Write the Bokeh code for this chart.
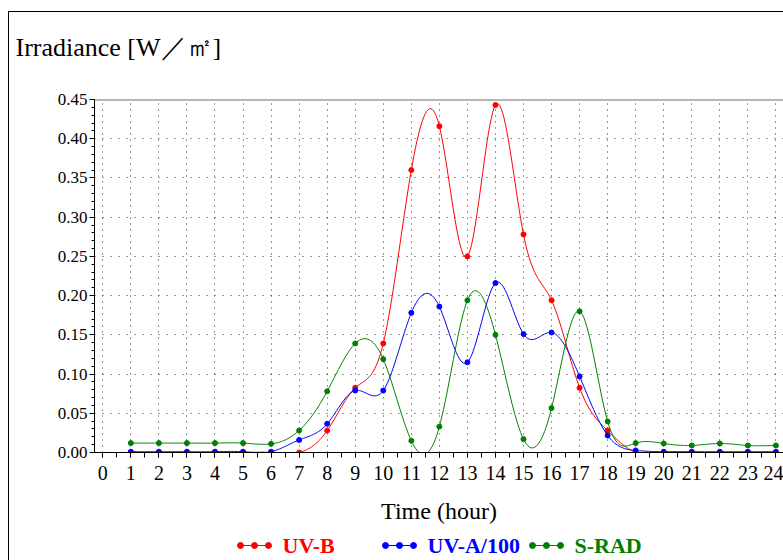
import numpy as np
from bokeh.plotting import figure
from bokeh.models import Range1d, Span, Title, SingleIntervalTicker, NumeralTickFormatter
from bokeh.layouts import column
from bokeh.embed import file_html
from bokeh.resources import INLINE
from bokeh.core.properties import value

# Hourly irradiance readings [W/m2]
hours = list(range(1, 25))
uvb = [0.0, 0.0, 0.0, 0.0, 0.0, 0.0, 0.0, 0.028, 0.0825, 0.139, 0.360, 0.416,
       0.250, 0.443, 0.278, 0.194, 0.0825, 0.028, 0.0, 0.0, 0.0, 0.0, 0.0, 0.0]
uva100 = [0.001, 0.001, 0.001, 0.001, 0.001, 0.001, 0.016, 0.0366, 0.079, 0.079, 0.178, 0.186,
          0.115, 0.216, 0.151, 0.153, 0.097, 0.0217, 0.0026, 0.001, 0.001, 0.001, 0.001, 0.001]
srad = [0.012, 0.012, 0.012, 0.012, 0.012, 0.011, 0.028, 0.078, 0.139, 0.119, 0.015, 0.033,
        0.194, 0.150, 0.017, 0.0566, 0.180, 0.0396, 0.012, 0.0115, 0.009, 0.0115, 0.009, 0.009]

series = [
    ("UV-B", uvb, "#ff0000"),
    ("UV-A/100", uva100, "#0000ff"),
    ("S-RAD", srad, "#008000"),
]

SERIF = "Liberation Serif"


def natural_spline(xs, ys, per_seg=20):
    """Smooth path through the points (natural cubic spline)."""
    x = np.asarray(xs, float)
    y = np.asarray(ys, float)
    n = len(x)
    h = np.diff(x)
    A = np.zeros((n, n))
    r = np.zeros(n)
    A[0, 0] = A[-1, -1] = 1.0
    for i in range(1, n - 1):
        A[i, i - 1] = h[i - 1]
        A[i, i] = 2 * (h[i - 1] + h[i])
        A[i, i + 1] = h[i]
        r[i] = 6 * ((y[i + 1] - y[i]) / h[i] - (y[i] - y[i - 1]) / h[i - 1])
    M = np.linalg.solve(A, r)
    px, py = [], []
    for i in range(n - 1):
        t = np.linspace(0, 1, per_seg, endpoint=(i == n - 2))
        hi = h[i]
        a = 1 - t
        s = (M[i] * (a * hi) ** 3 / (6 * hi) + M[i + 1] * (t * hi) ** 3 / (6 * hi)
             + (y[i] - M[i] * hi * hi / 6) * a + (y[i + 1] - M[i + 1] * hi * hi / 6) * t)
        px.extend(x[i] + t * hi)
        py.extend(s)
    return px, py


p = figure(width=774, height=516,
           x_range=Range1d(-0.296, 24.27), y_range=Range1d(0, 0.45),
           output_backend="svg", toolbar_location=None,
           min_border_left=85, min_border_right=0, min_border_top=87, min_border_bottom=76)
p.outline_line_color = None
p.background_fill_color = "white"
p.border_fill_color = "white"

# title in the top-left corner; a blank title row keeps it clear of the plot area
p.add_layout(Title(text=" ", text_font_size="10px", standoff=25), "above")
p.title.text = "Irradiance [W／㎡]"
p.title.align = "left"
p.title.offset = -79
p.title.standoff = 0
p.title.text_font = SERIF
p.title.text_font_size = "26px"
p.title.text_font_style = "normal"
p.title.text_color = "black"

for name, vals, color in series:
    sx, sy = natural_spline(hours, vals)
    p.line(sx, sy, line_color=color, line_width=1)
    p.scatter(hours, vals, size=5, marker="circle", fill_color=color, line_color=color)

p.add_layout(Span(location=0.45, dimension="width", line_color="#6e6e6e", line_width=2))

# axes
p.xaxis.ticker = SingleIntervalTicker(interval=1, num_minor_ticks=2)
p.yaxis.ticker = SingleIntervalTicker(interval=0.05, num_minor_ticks=5)
p.yaxis.formatter = NumeralTickFormatter(format="0.00")
for ax in (p.xaxis, p.yaxis):
    ax.axis_line_color = "black"
    ax.major_tick_line_color = "black"
    ax.minor_tick_line_color = "black"
    ax.major_tick_in = 0
    ax.minor_tick_in = 0
    ax.major_label_text_font = SERIF
    ax.major_label_text_color = "black"
p.xaxis.major_tick_out = 5
p.xaxis.minor_tick_out = 5
p.yaxis.major_tick_out = 5
p.yaxis.minor_tick_out = 3
p.xaxis.major_label_text_font_size = "20px"
p.yaxis.major_label_text_font_size = "17px"
p.yaxis.major_label_standoff = 2
p.xaxis.major_label_standoff = 8
p.xaxis.axis_label = "Time (hour)"
p.xaxis.axis_label_text_font = SERIF
p.xaxis.axis_label_text_font_size = "24px"
p.xaxis.axis_label_text_font_style = "normal"
p.xaxis.axis_label_text_color = "black"
p.xaxis.axis_label_standoff = 15

# dotted grid
p.xgrid.grid_line_color = "#333333"
p.xgrid.grid_line_dash = "1 5"
p.ygrid.grid_line_color = "#333333"
p.ygrid.grid_line_dash = "1 7"

# legend row, its frame lined up with the chart's frame (page x coordinates)
leg = figure(width=774, height=32, x_range=Range1d(94, 783), y_range=Range1d(32, 0),
             output_backend="svg", toolbar_location=None,
             x_axis_location=None, y_axis_location=None,
             min_border_left=85, min_border_right=0, min_border_top=0, min_border_bottom=0)
leg.outline_line_color = None
leg.grid.visible = False
legend_x = [240, 385, 532]
for (name, vals, color), lx in zip(series, legend_x):
    xs = [lx, lx + 14, lx + 28]
    leg.line(xs, [17, 17, 17], line_color=color, line_width=1)
    leg.scatter(xs, [17, 17, 17], size=6, marker="circle", fill_color=color, line_color=color)
    leg.text([lx + 42], [17], text=[name], text_font=value(SERIF), text_font_style="bold",
             text_font_size="22px", text_color=color, text_baseline="middle")

layout = column(p, leg, margin=(11, 0, 0, 8),
                styles={"border-left": "1px solid #000", "border-top": "1px solid #000"})

open("out.html", "w").write(file_html(layout, INLINE))
